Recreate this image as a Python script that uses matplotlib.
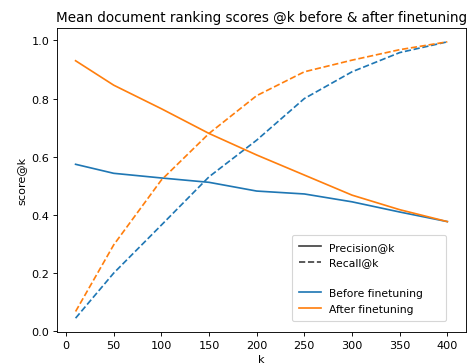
import matplotlib
matplotlib.use("Agg")
import matplotlib.pyplot as plt
from matplotlib.lines import Line2D

# k values at which scores were measured
k_values = [10, 50, 100, 150, 200, 250, 300, 350, 400]

# mean precision@k / recall@k
precision_before = [0.574, 0.543, 0.527, 0.512, 0.482, 0.472, 0.445, 0.410, 0.377]
recall_before = [0.045, 0.200, 0.365, 0.531, 0.657, 0.800, 0.892, 0.958, 0.995]
precision_after = [0.930, 0.846, 0.765, 0.680, 0.606, 0.537, 0.468, 0.418, 0.377]
recall_after = [0.068, 0.297, 0.520, 0.680, 0.810, 0.892, 0.932, 0.968, 0.995]

series_labels = ["Before finetuning", "After finetuning"]
series_colors = ["tab:blue", "tab:orange"]

DPI = 81
fig = plt.figure(figsize=(473 / DPI, 365 / DPI), dpi=DPI)
ax = fig.add_axes([0.1205, 0.0877, 0.8645, 0.8328])

ax.plot(k_values, precision_before, color=series_colors[0], linestyle="-")
ax.plot(k_values, recall_before, color=series_colors[0], linestyle="--")
ax.plot(k_values, precision_after, color=series_colors[1], linestyle="-")
ax.plot(k_values, recall_after, color=series_colors[1], linestyle="--")

ax.set_title("Mean document ranking scores @k before & after finetuning")
ax.set_xlabel("k")
ax.set_ylabel("score@k")
ax.set_xticks([0, 50, 100, 150, 200, 250, 300, 350, 400])

handles = [
    Line2D([], [], color="0.25", linestyle="-"),
    Line2D([], [], color="0.25", linestyle="--"),
    Line2D([], [], linestyle="none"),
    Line2D([], [], color=series_colors[0]),
    Line2D([], [], color=series_colors[1]),
]
labels = ["Precision@k", "Recall@k", "", series_labels[0], series_labels[1]]
ax.legend(handles, labels, loc="lower left", mode="expand",
          bbox_to_anchor=(0.5746, 0.036, 0.3765, 0.3),
          borderaxespad=0, borderpad=0.7, fontsize=9.5)

fig.savefig("out.png", dpi=DPI)
